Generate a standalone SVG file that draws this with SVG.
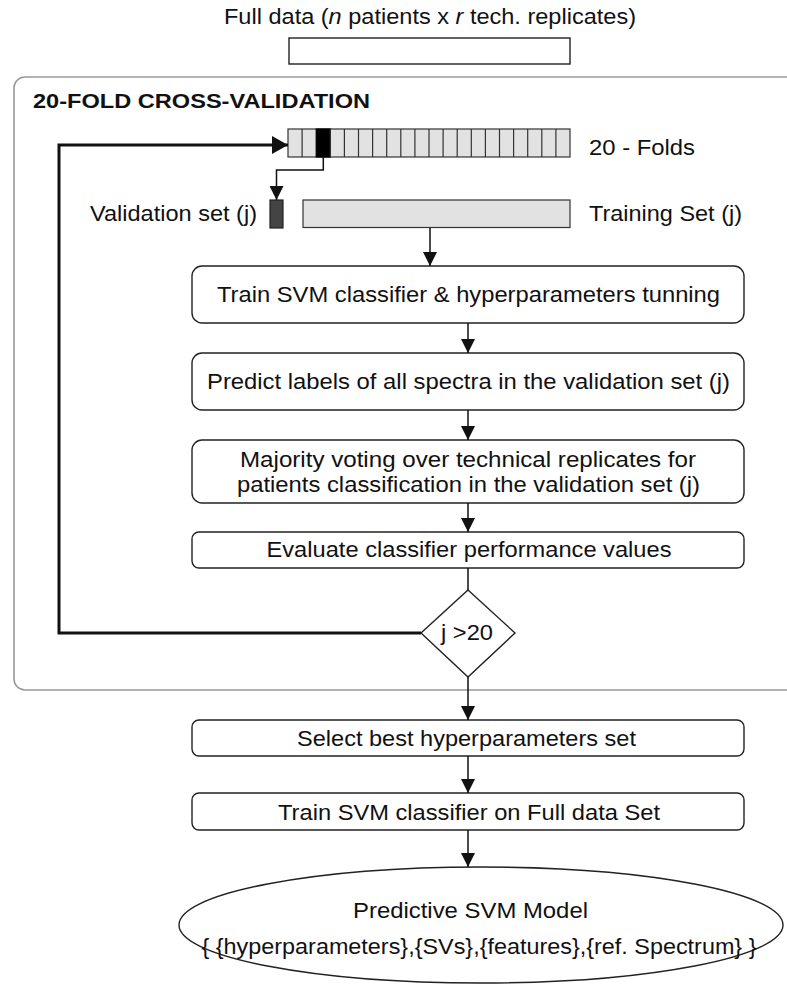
<svg xmlns="http://www.w3.org/2000/svg" width="787" height="989" viewBox="0 0 787 989">
  <style>
    text { font-family: "Liberation Sans", Arial, sans-serif; fill: #111; }
    .lbl { font-size: 22px; }
    .mid { text-anchor: middle; }
    .box { fill: #fff; stroke: #222; stroke-width: 1.4; }
    .cell { fill: #e2e2e2; stroke: #333; stroke-width: 1.2; }
    .thin { fill: none; stroke: #111; stroke-width: 1.5; }
    .thick { fill: none; stroke: #111; stroke-width: 3; }
    .head { fill: #111; }
  </style>
  <defs>
    <marker id="ah" viewBox="0 0 14 14" refX="14" refY="7" markerWidth="14" markerHeight="14" markerUnits="userSpaceOnUse" orient="auto">
      <path d="M0,0 L14,7 L0,14 Z" class="head"/>
    </marker>
    <marker id="ahBig" viewBox="0 0 16 18" refX="16" refY="9" markerWidth="16" markerHeight="18" markerUnits="userSpaceOnUse" orient="auto">
      <path d="M0,0 L16,9 L0,18 Z" class="head"/>
    </marker>
  </defs>

  <!-- input data -->
  <g id="full-data">
    <text class="lbl mid" x="430" y="24" textLength="412" lengthAdjust="spacingAndGlyphs">Full data (<tspan font-style="italic">n</tspan> patients x <tspan font-style="italic">r</tspan> tech. replicates)</text>
    <rect x="289" y="38" width="281" height="26" fill="#fff" stroke="#222" stroke-width="1.4"/>
  </g>

  <!-- cross-validation panel -->
  <g id="cv-panel">
    <rect x="14" y="77" width="800" height="613" rx="11" fill="none" stroke="#999" stroke-width="1.6"/>
    <text x="33" y="108" font-size="19.5" font-weight="bold" textLength="337" lengthAdjust="spacingAndGlyphs">20-FOLD CROSS-VALIDATION</text>
  </g>

  <!-- the 20 folds -->
  <g id="folds">
    <rect x="288" y="129" width="282" height="28" class="cell"/>
    <rect x="316.2" y="129" width="14.1" height="28" fill="#000" stroke="#000" stroke-width="1.2"/>
    <path d="M302.1,129V157 M330.3,129V157 M344.4,129V157 M358.5,129V157 M372.6,129V157 M386.7,129V157 M400.8,129V157 M414.9,129V157 M429,129V157 M443.1,129V157 M457.2,129V157 M471.3,129V157 M485.4,129V157 M499.5,129V157 M513.6,129V157 M527.7,129V157 M541.8,129V157 M555.9,129V157" stroke="#333" stroke-width="1.2"/>
    <text class="lbl" x="589" y="155" textLength="106" lengthAdjust="spacingAndGlyphs">20 - Folds</text>
  </g>

  <g id="validation-set">
    <text class="lbl" x="90" y="221" textLength="167" lengthAdjust="spacingAndGlyphs">Validation set (j)</text>
    <rect x="270" y="200" width="13" height="28" fill="#444" stroke="#222" stroke-width="1.2"/>
  </g>

  <g id="training-set">
    <rect x="303" y="200" width="267" height="27.5" class="cell"/>
    <text class="lbl" x="589" y="221" textLength="153" lengthAdjust="spacingAndGlyphs">Training Set (j)</text>
  </g>

  <g id="train-svm">
    <rect x="192" y="266" width="552" height="57" rx="10" class="box"/>
    <text class="lbl mid" x="468.5" y="302" textLength="503" lengthAdjust="spacingAndGlyphs">Train SVM classifier &amp; hyperparameters tunning</text>
  </g>

  <g id="predict">
    <rect x="192" y="353" width="552" height="57" rx="10" class="box"/>
    <text class="lbl mid" x="468.5" y="389" textLength="523" lengthAdjust="spacingAndGlyphs">Predict labels of all spectra in the validation set (j)</text>
  </g>

  <g id="majority-vote">
    <rect x="192" y="440" width="552" height="63" rx="10" class="box"/>
    <text class="lbl mid" x="468" y="467" textLength="456" lengthAdjust="spacingAndGlyphs">Majority voting over technical replicates for</text>
    <text class="lbl mid" x="468.5" y="492" textLength="463" lengthAdjust="spacingAndGlyphs">patients classification in the validation set (j)</text>
  </g>

  <g id="evaluate">
    <rect x="192" y="532" width="552" height="36" rx="7" class="box"/>
    <text class="lbl mid" x="469" y="557" textLength="405" lengthAdjust="spacingAndGlyphs">Evaluate classifier performance values</text>
  </g>

  <g id="loop-check">
    <path d="M468,590 L515,633 L468,677 L421,633 Z" class="box"/>
    <text class="lbl mid" x="467" y="640" textLength="52" lengthAdjust="spacingAndGlyphs">j &gt;20</text>
  </g>

  <g id="select-best">
    <rect x="192" y="720" width="552" height="36" rx="7" class="box"/>
    <text class="lbl mid" x="466.5" y="746" textLength="339" lengthAdjust="spacingAndGlyphs">Select best hyperparameters set</text>
  </g>

  <g id="train-full">
    <rect x="192" y="793" width="552" height="37" rx="7" class="box"/>
    <text class="lbl mid" x="469" y="820" textLength="382" lengthAdjust="spacingAndGlyphs">Train SVM classifier on Full data Set</text>
  </g>

  <g id="model">
    <ellipse cx="481" cy="925" rx="302" ry="58" class="box"/>
    <text class="lbl mid" x="470.5" y="918" textLength="235" lengthAdjust="spacingAndGlyphs">Predictive SVM Model</text>
    <text class="lbl mid" x="479" y="954" textLength="555" lengthAdjust="spacingAndGlyphs">{ {hyperparameters},{SVs},{features},{ref. Spectrum} }</text>
  </g>

  <!-- connectors -->
  <g id="connectors">
    <path d="M421,633 H59 V145 H288" class="thick" marker-end="url(#ahBig)"/>
    <path d="M323.3,157 V170 H276.5 V200" class="thin" marker-end="url(#ah)"/>
    <path d="M430,228 V266" class="thin" marker-end="url(#ah)"/>
    <path d="M468,323 V353" class="thin" marker-end="url(#ah)"/>
    <path d="M468,410 V440" class="thin" marker-end="url(#ah)"/>
    <path d="M468,503 V532" class="thin" marker-end="url(#ah)"/>
    <path d="M468,568 V590" class="thin"/>
    <path d="M468,677 V720" class="thin" marker-end="url(#ah)"/>
    <path d="M468,756 V793" class="thin" marker-end="url(#ah)"/>
    <path d="M468,830 V867" class="thin" marker-end="url(#ah)"/>
  </g>
</svg>
